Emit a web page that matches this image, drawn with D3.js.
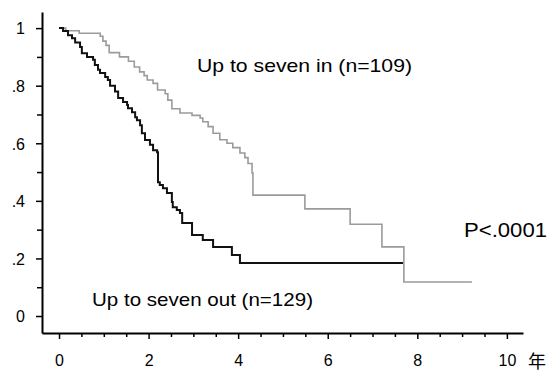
<!DOCTYPE html>
<html>
<head>
<meta charset="utf-8">
<script src="https://cdn.jsdelivr.net/npm/d3@7"></script>
<style>
body { margin: 0; background: #fff; }
text { font-family: "Liberation Sans", Arial, sans-serif; }
</style>
</head>
<body>
<script>
svg_w = 553
svg_h = 372

// Up to seven in (n=109) - gray curve: drop times (years) and survival after the drop
var inTimes = [0, 0.15, 0.45, 0.92, 0.98, 1.05, 1.12, 1.35, 1.55, 1.68, 1.80, 1.90, 1.97, 2.10, 2.20, 2.37, 2.43, 2.52, 2.70, 2.97, 3.15, 3.21, 3.33, 3.44, 3.59, 3.75, 3.88, 4.04, 4.15, 4.22, 4.31, 4.33, 5.49, 6.50, 7.21, 7.70, 9.22]
var inSurv  = [1, 0.991, 0.982, 0.972, 0.955, 0.94, 0.915, 0.90, 0.885, 0.865, 0.848, 0.835, 0.82, 0.808, 0.785, 0.772, 0.75, 0.72, 0.705, 0.697, 0.688, 0.675, 0.658, 0.635, 0.612, 0.60, 0.585, 0.566, 0.55, 0.53, 0.497, 0.42, 0.372, 0.319, 0.24, 0.118, 0.118]

// Up to seven out (n=129) - black curve
var outTimes = [0, 0.09, 0.20, 0.29, 0.36, 0.47, 0.51, 0.625, 0.76, 0.80, 0.87, 0.915, 1.03, 1.09, 1.14, 1.25, 1.32, 1.43, 1.52, 1.54, 1.63, 1.70, 1.74, 1.81, 1.85, 1.92, 2.03, 2.10, 2.19, 2.21, 2.25, 2.32, 2.41, 2.52, 2.54, 2.63, 2.70, 2.75, 2.97, 3.21, 3.44, 3.86, 4.04, 7.68]
var outSurv  = [1, 0.99, 0.975, 0.965, 0.95, 0.934, 0.913, 0.90, 0.89, 0.872, 0.855, 0.844, 0.83, 0.82, 0.80, 0.78, 0.757, 0.743, 0.733, 0.722, 0.708, 0.69, 0.68, 0.663, 0.635, 0.611, 0.595, 0.576, 0.569, 0.465, 0.455, 0.444, 0.427, 0.396, 0.378, 0.368, 0.358, 0.323, 0.281, 0.264, 0.24, 0.212, 0.184, 0.184]

var yMajor = [0, 0.2, 0.4, 0.6, 0.8, 1]
var yMinor = [0.1, 0.3, 0.5, 0.7, 0.9]
var xMajor = [0, 2, 4, 6, 8, 10]
var xMinor = [0.5, 1, 1.5, 2.5, 3, 3.5, 4.5, 5, 5.5, 6.5, 7, 7.5, 8.5, 9, 9.5]

var labelIn = "Up to seven in (n=109)"
var labelOut = "Up to seven out (n=129)"
var labelP = "P<.0001"
var unitLabel = "年"

var svg = d3.select("body").append("svg")
    .attr("width", svg_w)
    .attr("height", svg_h)

var xscale = d3.scaleLinear().domain([-0.38, 10.36]).range([42, 523])
var yscale = d3.scaleLinear().domain([-0.059, 1.056]).range([333, 12])

function fmtY(d) {
    if (d === 0) return "0"
    if (d === 1) return "1"
    return String(d).replace("0.", ".")
}

// minor ticks first
svg.append("g")
    .attr("transform", "translate(42,0)")
    .call(d3.axisLeft(yscale).tickValues(yMinor).tickSize(5).tickSizeOuter(0).tickFormat(""))
    .call(g => g.select(".domain").remove())
svg.append("g")
    .attr("transform", "translate(0,333)")
    .call(d3.axisBottom(xscale).tickValues(xMinor).tickSize(4).tickSizeOuter(0).tickFormat(""))
    .call(g => g.select(".domain").remove())

var yAxis = svg.append("g")
    .attr("transform", "translate(42,0)")
    .call(d3.axisLeft(yscale).tickValues(yMajor).tickSize(6).tickSizeOuter(0).tickPadding(11).tickFormat(fmtY))
var xAxis = svg.append("g")
    .attr("transform", "translate(0,333)")
    .call(d3.axisBottom(xscale).tickValues(xMajor).tickSize(6).tickSizeOuter(0).tickPadding(16).tickFormat(d3.format("d")))

svg.selectAll(".tick line").attr("stroke", "#000").attr("stroke-width", 1.5)
svg.selectAll(".domain").attr("stroke", "#000").attr("stroke-width", 2)
svg.selectAll(".tick text")
    .attr("font-family", "Liberation Sans, Arial, sans-serif")
    .attr("font-size", 16)
    .attr("fill", "#000")
yAxis.selectAll(".tick text").attr("dy", "0.36em")

// curves
var line = d3.line()
    .x(d => xscale(d[0]))
    .y(d => yscale(d[1]))
    .curve(d3.curveStepAfter)

svg.append("path")
    .attr("d", line(d3.zip(inTimes, inSurv)))
    .attr("fill", "none")
    .attr("stroke", "#9b9b9b")
    .attr("stroke-width", 1.6)

svg.append("path")
    .attr("d", line(d3.zip(outTimes, outSurv)))
    .attr("fill", "none")
    .attr("stroke", "#111")
    .attr("stroke-width", 2)

// labels
svg.append("text")
    .attr("x", 197).attr("y", 72)
    .attr("font-size", 19)
    .attr("textLength", 215).attr("lengthAdjust", "spacingAndGlyphs")
    .text(labelIn)

svg.append("text")
    .attr("x", 92).attr("y", 306)
    .attr("font-size", 19)
    .attr("textLength", 221).attr("lengthAdjust", "spacingAndGlyphs")
    .text(labelOut)

svg.append("text")
    .attr("x", 464).attr("y", 237)
    .attr("font-size", 20)
    .attr("textLength", 83).attr("lengthAdjust", "spacingAndGlyphs")
    .text(labelP)

svg.append("text")
    .attr("x", 528).attr("y", 368)
    .attr("font-size", 18)
    .style("font-family", "'Noto Sans CJK JP', sans-serif")
    .text(unitLabel)
</script>
</body>
</html>
